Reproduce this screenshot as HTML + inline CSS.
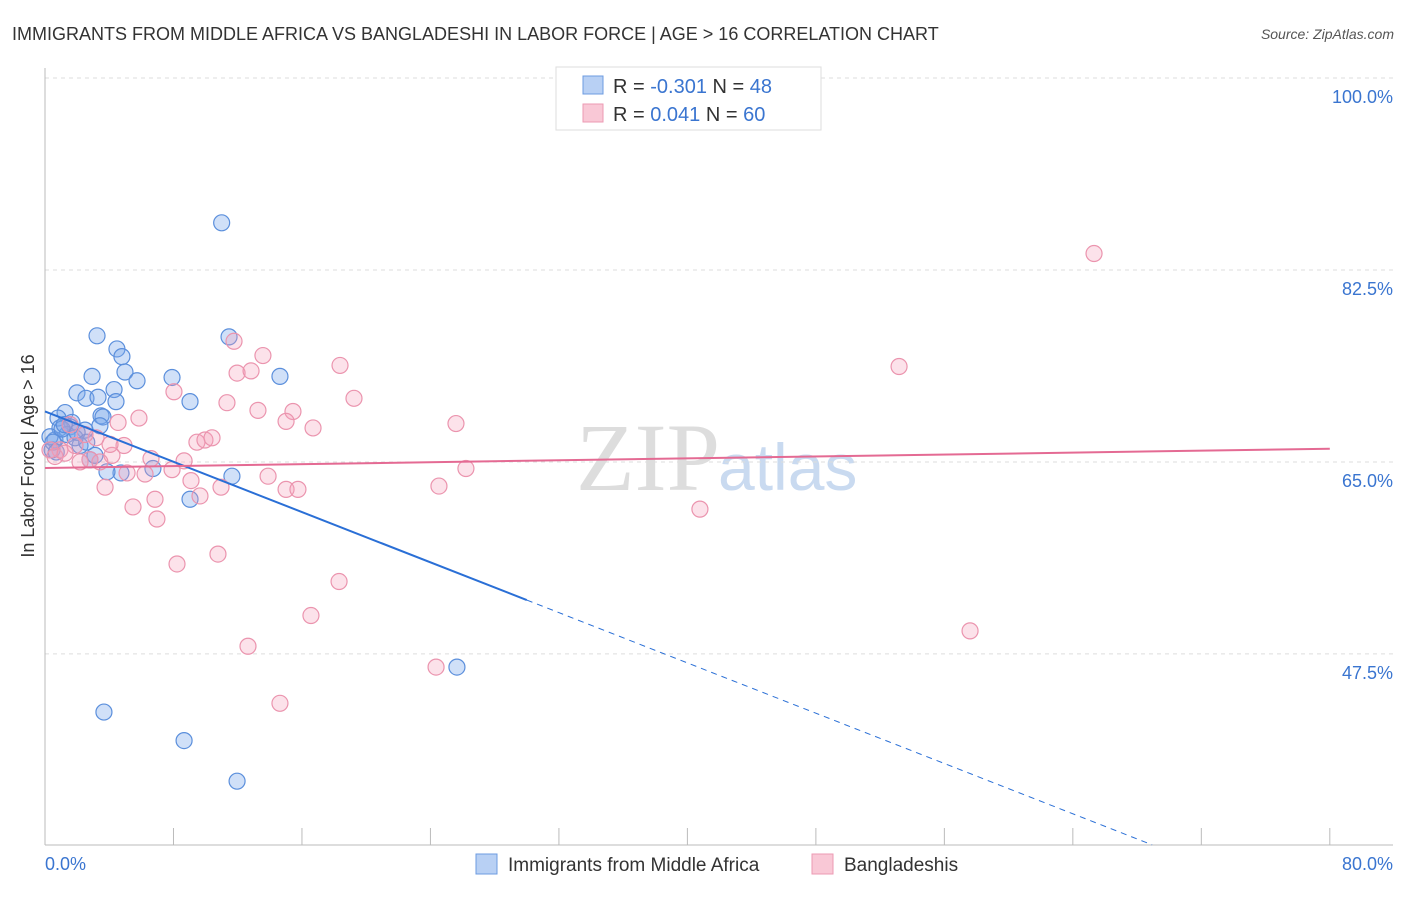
<!DOCTYPE html>
<html><head><meta charset="utf-8"><style>
body{margin:0;background:#fff;font-family:"Liberation Sans",sans-serif}
</style></head><body>
<svg id="c" width="1406" height="892" xmlns="http://www.w3.org/2000/svg" style="font-family:'Liberation Sans',sans-serif">
<text x="12" y="40" font-size="18" fill="#333">IMMIGRANTS FROM MIDDLE AFRICA VS BANGLADESHI IN LABOR FORCE | AGE &gt; 16 CORRELATION CHART</text>
<text x="1394" y="39" font-size="14" fill="#555" text-anchor="end" font-style="italic">Source: ZipAtlas.com</text>
<text x="720" y="490" font-size="96" fill="#ddd" text-anchor="end" font-family="Liberation Serif">ZIP</text>
<text x="718" y="490" font-size="66" fill="#c9daf0">atlas</text>
<text transform="translate(34,456) rotate(-90)" font-size="18" fill="#333" text-anchor="middle">In Labor Force | Age &gt; 16</text>
<g id="grid"></g><g id="ticks"></g><g id="pts"></g><g id="trend"></g>
<g>
<rect x="556" y="67" width="265" height="63" fill="#fff" stroke="#ddd"/>
<rect x="583" y="76" width="20" height="18" fill="#b8d0f4" stroke="#6c9be0"/>
<rect x="583" y="104" width="20" height="18" fill="#f9c8d6" stroke="#ec9ab3"/>
<text x="613" y="93" font-size="20" fill="#333">R = <tspan fill="#3a75d0">-0.301</tspan>   N = <tspan fill="#3a75d0">48</tspan></text>
<text x="613" y="121" font-size="20" fill="#333">R =  <tspan fill="#3a75d0"> 0.041</tspan>   N = <tspan fill="#3a75d0">60</tspan></text>
</g>
<g>
<rect x="476" y="854" width="21" height="20" fill="#b8d0f4" stroke="#6c9be0"/>
<text x="508" y="871" font-size="19" fill="#333">Immigrants from Middle Africa</text>
<rect x="812" y="854" width="21" height="20" fill="#f9c8d6" stroke="#ec9ab3"/>
<text x="844" y="871" font-size="19" fill="#333">Bangladeshis</text>
</g>
</svg>
<script>
const yTicks=[47.5,65.0,82.5,100.0];
const xTickLabels=["0.0%","80.0%"];
const blueX=[11.0,3.24,11.46,4.48,4.79,4.98,5.73,2.93,7.91,14.63,4.30,1.99,2.55,3.30,4.42,9.03,1.25,3.49,3.61,0.81,1.68,0.93,1.56,3.42,6.72,4.73,3.86,11.64,9.03,3.67,8.66,11.96,25.65,2.80,2.18,0.62,0.44,1.37,2.49,1.87,3.11,0.31,1.06,0.5,2.0,1.2,0.7,2.6];
const blueY=[86.8,76.5,76.4,75.3,74.6,73.2,72.4,72.8,72.7,72.8,71.6,71.3,70.8,70.9,70.5,70.5,69.5,69.2,69.1,69.0,68.6,68.1,68.2,68.3,64.4,64.0,64.1,63.7,61.6,42.2,39.6,35.9,46.3,65.2,66.5,67.0,66.1,67.5,67.9,67.2,65.6,67.3,68.0,66.8,67.7,68.4,65.9,66.8];
const pinkX=[65.32,53.18,11.77,13.57,18.37,11.96,12.83,8.03,19.24,11.33,13.26,15.44,5.85,15.01,16.69,25.59,4.55,9.46,9.96,10.40,3.18,4.92,6.60,8.66,4.17,2.80,6.23,7.91,13.89,26.21,9.09,10.96,3.74,15.01,15.75,6.85,9.65,24.53,5.48,6.97,40.78,10.77,8.22,18.31,16.56,12.64,24.35,14.63,57.60,1.56,0.93,2.18,0.31,0.62,3.42,2.49,1.87,1.25,4.05,5.11];
const pinkY=[84.0,73.7,76.0,74.7,73.8,73.1,73.3,71.4,70.8,70.4,69.7,69.6,69.0,68.7,68.1,68.5,68.6,66.8,67.0,67.2,67.2,66.5,65.3,65.1,65.6,65.2,63.9,64.3,63.7,64.4,63.3,62.7,62.7,62.5,62.5,61.6,61.9,62.8,60.9,59.8,60.7,56.6,55.7,54.1,51.0,48.2,46.3,43.0,49.6,68.4,66.1,65.0,66.1,65.5,65.0,67.5,66.5,65.8,66.6,64.0];
const blueTrend=[69.6,-0.573];
const pinkTrend=[64.45,0.0219];
const X=v=>45+v*16.06, Y=v=>78+(100-v)*10.97;
const NS="http://www.w3.org/2000/svg";
function mk(t,a,p){const e=document.createElementNS(NS,t);for(const k in a)e.setAttribute(k,a[k]);document.getElementById(p).appendChild(e);return e;}
yTicks.forEach(t=>{
 const l=mk('line',{x1:45,x2:1393,y1:Y(t),y2:Y(t),stroke:'#ddd','stroke-dasharray':'4,4'},'grid');
 
 
 const tx=mk('text',{x:1393,y:Y(t)+25,'font-size':18,fill:'#3a75d0','text-anchor':'end'},'grid');
 tx.textContent=t.toFixed(1)+'%';
 
 
});
const ax=mk('line',{x1:45,x2:1393,y1:845,y2:845,stroke:'#bbb'},'ticks');


const ay=mk('line',{x1:45,x2:45,y1:68,y2:845,stroke:'#bbb'},'ticks');


for(let i=0;i<=10;i++){const l=mk('line',{x1:X(i*8),x2:X(i*8),y1:828,y2:845,stroke:'#bbb'},'ticks');
 
 }
[[0,'start',45],[80,'end',1393]].forEach((d,i)=>{const t=mk('text',{x:d[2],y:870,'font-size':18,fill:'#3a75d0','text-anchor':d[1]},'ticks');t.textContent=xTickLabels[i];
 
 });
blueX.forEach((x,i)=>{const c=mk('circle',{cx:X(x),cy:Y(blueY[i]),r:8,fill:'rgba(120,165,235,0.35)',stroke:'#5b8fdc','stroke-width':1.2},'pts');
 
 });
pinkX.forEach((x,i)=>{const c=mk('circle',{cx:X(x),cy:Y(pinkY[i]),r:8,fill:'rgba(245,160,185,0.3)',stroke:'#eb94ae','stroke-width':1.2},'pts');
 
 });
const bt=x=>blueTrend[0]+blueTrend[1]*x, pt=x=>pinkTrend[0]+pinkTrend[1]*x;
const b1=mk('line',{x1:X(0),y1:Y(bt(0)),x2:X(30),y2:Y(bt(30)),stroke:'#2a6fd6','stroke-width':2},'trend');


const xe=(30.1-blueTrend[0])/blueTrend[1];
const b2=mk('line',{x1:X(30),y1:Y(bt(30)),x2:X(xe),y2:Y(bt(xe)),stroke:'#2a6fd6','stroke-width':1,'stroke-dasharray':'6,5'},'trend');


const p1=mk('line',{x1:X(0),y1:Y(pt(0)),x2:X(80),y2:Y(pt(80)),stroke:'#e46a93','stroke-width':2},'trend');


</script>
</body></html>
